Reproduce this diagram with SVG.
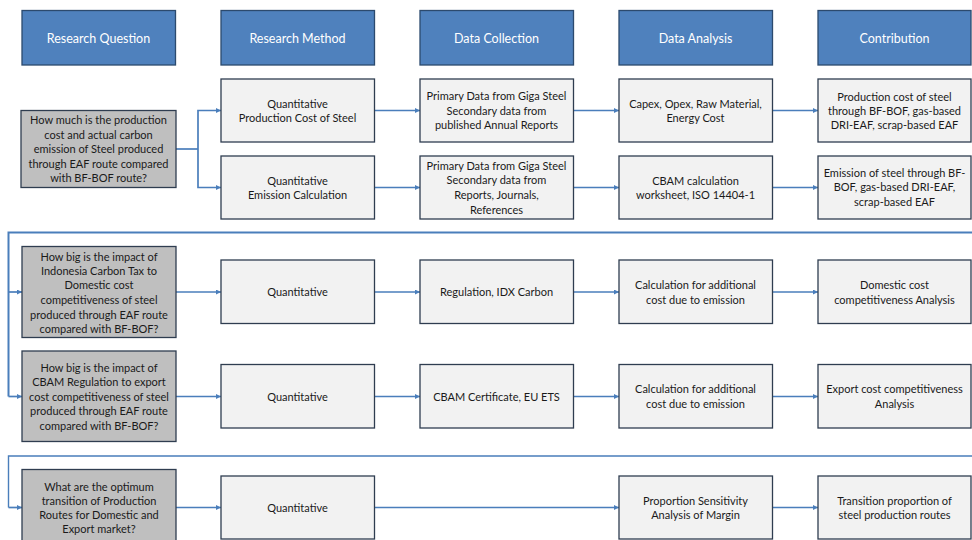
<svg xmlns="http://www.w3.org/2000/svg" width="972" height="540" viewBox="0 0 972 540">
<defs>
<marker id="ah" viewBox="0 0 6 6" refX="6" refY="3" markerWidth="6" markerHeight="5" markerUnits="userSpaceOnUse" orient="auto">
<path d="M0,0 L6,3 L0,6 Z" fill="#4A7EBB"/>
</marker>
<style>
.hdr{fill:#4F81BD;stroke:#2C4A6E;stroke-width:1.3}
.box{fill:#F2F2F2;stroke:#2F3D50;stroke-width:1.3}
.q{fill:#BFBFBF;stroke:#2F3D50;stroke-width:1.3}
.ht{font-family:Lato,"Liberation Sans",sans-serif;font-size:12.5px;fill:#FFFFFF;text-anchor:middle}
.t{font-family:Lato,"Liberation Sans",sans-serif;font-size:11px;fill:#1A1A1A;text-anchor:middle}
.c{fill:none;stroke:#4A7EBB;stroke-width:1.7}
.ca{fill:none;stroke:#4A7EBB;stroke-width:1.7;marker-end:url(#ah)}
</style>
</defs>
<rect width="972" height="540" fill="#FFFFFF"/>

<g id="connectors">
<path class="c" d="M176,149 H198"/>
<path class="ca" d="M198,149 V110.5 H221"/>
<path class="ca" d="M198,149 V187.5 H221"/>
<path class="ca" d="M375,110.5 H420"/>
<path class="ca" d="M375,187.5 H420"/>
<path class="ca" d="M574,110.5 H619"/>
<path class="ca" d="M574,187.5 H619"/>
<path class="ca" d="M773,110.5 H818"/>
<path class="ca" d="M773,187.5 H818"/>
<path class="c" style="stroke-width:2" d="M972,232.5 H8.5 V396.5"/>
<path class="ca" d="M8.5,292 H22"/>
<path class="ca" d="M8.5,396.5 H22"/>
<path class="ca" d="M176,292 H221"/>
<path class="ca" d="M176,396.5 H221"/>
<path class="ca" d="M375,292 H420"/>
<path class="ca" d="M375,396.5 H420"/>
<path class="ca" d="M574,292 H619"/>
<path class="ca" d="M574,396.5 H619"/>
<path class="ca" d="M773,292 H818"/>
<path class="ca" d="M773,396.5 H818"/>
<path class="c" style="stroke-width:1.4" d="M972,456 H8.5 V507.5"/>
<path class="ca" d="M8.5,507.5 H22"/>
<path class="ca" d="M176,507.5 H221"/>
<path class="ca" d="M375,507.5 H619"/>
<path class="ca" d="M773,507.5 H818"/>
</g>

<g id="h-question"><rect class="hdr" x="22" y="10.5" width="153.5" height="54.5"/><text class="ht" x="98.5" y="42.5">Research Question</text></g>
<g id="h-method"><rect class="hdr" x="221" y="10.5" width="153.5" height="54.5"/><text class="ht" x="297.5" y="42.5">Research Method</text></g>
<g id="h-collection"><rect class="hdr" x="420" y="10.5" width="153.5" height="54.5"/><text class="ht" x="496.5" y="42.5">Data Collection</text></g>
<g id="h-analysis"><rect class="hdr" x="619" y="10.5" width="153.5" height="54.5"/><text class="ht" x="695.5" y="42.5">Data Analysis</text></g>
<g id="h-contribution"><rect class="hdr" x="818" y="10.5" width="153" height="54.5"/><text class="ht" x="894.5" y="42.5">Contribution</text></g>

<g id="q1"><rect class="q" x="21" y="110.5" width="155" height="77"/>
<text class="t" x="98.5"><tspan x="98.5" y="124">How much is the production</tspan><tspan x="98.5" y="138.5">cost  and actual carbon</tspan><tspan x="98.5" y="153">emission of Steel produced</tspan><tspan x="98.5" y="167.5">through EAF route compared</tspan><tspan x="98.5" y="182">with BF-BOF route?</tspan></text></g>

<g id="r1-method"><rect class="box" x="221" y="79" width="153.5" height="63"/>
<text class="t"><tspan x="297.5" y="107.5">Quantitative</tspan><tspan x="297.5" y="121.5">Production Cost of Steel</tspan></text></g>
<g id="r2-method"><rect class="box" x="221" y="156" width="153.5" height="63"/>
<text class="t"><tspan x="297.5" y="184.5">Quantitative</tspan><tspan x="297.5" y="198.5">Emission Calculation</tspan></text></g>

<g id="r1-collection"><rect class="box" x="420" y="79" width="153.5" height="63"/>
<text class="t"><tspan x="496.5" y="100">Primary Data from Giga Steel</tspan><tspan x="496.5" y="114.5">Secondary data from</tspan><tspan x="496.5" y="129">published Annual Reports</tspan></text></g>
<g id="r2-collection"><rect class="box" x="420" y="156" width="153.5" height="63"/>
<text class="t"><tspan x="496.5" y="169.5">Primary Data from Giga Steel</tspan><tspan x="496.5" y="184">Secondary data from</tspan><tspan x="496.5" y="198.5">Reports, Journals,</tspan><tspan x="496.5" y="213.5">References</tspan></text></g>

<g id="r1-analysis"><rect class="box" x="619" y="79" width="153.5" height="63"/>
<text class="t"><tspan x="695.5" y="107.5">Capex, Opex, Raw Material,</tspan><tspan x="695.5" y="121.5">Energy Cost</tspan></text></g>
<g id="r2-analysis"><rect class="box" x="619" y="156" width="153.5" height="63"/>
<text class="t"><tspan x="695.5" y="185">CBAM calculation</tspan><tspan x="695.5" y="199">worksheet, ISO 14404-1</tspan></text></g>

<g id="r1-contribution"><rect class="box" x="818" y="79" width="153" height="63"/>
<text class="t"><tspan x="894.5" y="100.5">Production cost of steel</tspan><tspan x="894.5" y="114.5">through BF-BOF, gas-based</tspan><tspan x="894.5" y="129">DRI-EAF, scrap-based EAF</tspan></text></g>
<g id="r2-contribution"><rect class="box" x="818" y="156" width="153" height="63"/>
<text class="t"><tspan x="894.5" y="177">Emission of steel through BF-</tspan><tspan x="894.5" y="191">BOF, gas-based DRI-EAF,</tspan><tspan x="894.5" y="205.5">scrap-based EAF</tspan></text></g>

<g id="q2"><rect class="q" x="22" y="246.5" width="154" height="91"/>
<text class="t"><tspan x="99" y="260.5">How big is the impact of</tspan><tspan x="99" y="274.5">Indonesia Carbon Tax to</tspan><tspan x="99" y="289">Domestic cost</tspan><tspan x="99" y="304">competitiveness of steel</tspan><tspan x="99" y="319">produced through EAF route</tspan><tspan x="99" y="333">compared with BF-BOF?</tspan></text></g>
<g id="r3-method"><rect class="box" x="221" y="260" width="153.5" height="63.5"/><text class="t" x="297.5" y="296">Quantitative</text></g>
<g id="r3-collection"><rect class="box" x="420" y="260" width="153.5" height="63.5"/><text class="t" x="496.5" y="296">Regulation, IDX Carbon</text></g>
<g id="r3-analysis"><rect class="box" x="619" y="260" width="153.5" height="63.5"/>
<text class="t"><tspan x="695.5" y="289">Calculation for additional</tspan><tspan x="695.5" y="303.5">cost due to emission</tspan></text></g>
<g id="r3-contribution"><rect class="box" x="818" y="260" width="153" height="63.5"/>
<text class="t"><tspan x="894.5" y="289">Domestic cost</tspan><tspan x="894.5" y="303.5">competitiveness Analysis</tspan></text></g>

<g id="q3"><rect class="q" x="22" y="351" width="154" height="90.5"/>
<text class="t"><tspan x="99" y="371.5">How big is the impact of</tspan><tspan x="99" y="385.5">CBAM Regulation to export</tspan><tspan x="99" y="400.5">cost competitiveness of steel</tspan><tspan x="99" y="415">produced through EAF route</tspan><tspan x="99" y="430">compared with BF-BOF?</tspan></text></g>
<g id="r4-method"><rect class="box" x="221" y="364.5" width="153.5" height="63.5"/><text class="t" x="297.5" y="400.5">Quantitative</text></g>
<g id="r4-collection"><rect class="box" x="420" y="364.5" width="153.5" height="63.5"/><text class="t" x="496.5" y="400.5">CBAM Certificate, EU ETS</text></g>
<g id="r4-analysis"><rect class="box" x="619" y="364.5" width="153.5" height="63.5"/>
<text class="t"><tspan x="695.5" y="393">Calculation for additional</tspan><tspan x="695.5" y="407.5">cost due to emission</tspan></text></g>
<g id="r4-contribution"><rect class="box" x="818" y="364.5" width="153" height="63.5"/>
<text class="t"><tspan x="894.5" y="393">Export cost competitiveness</tspan><tspan x="894.5" y="407.5">Analysis</tspan></text></g>

<g id="q4"><rect class="q" x="22" y="469.5" width="154" height="78"/>
<text class="t"><tspan x="99" y="490.5">What are the optimum</tspan><tspan x="99" y="505">transition of Production</tspan><tspan x="99" y="519">Routes for Domestic and</tspan><tspan x="99" y="533">Export market?</tspan></text></g>
<g id="r5-method"><rect class="box" x="221" y="476" width="153.5" height="63"/><text class="t" x="297.5" y="511.5">Quantitative</text></g>
<g id="r5-analysis"><rect class="box" x="619" y="476" width="153.5" height="63"/>
<text class="t"><tspan x="695.5" y="505">Proportion Sensitivity</tspan><tspan x="695.5" y="519">Analysis of Margin</tspan></text></g>
<g id="r5-contribution"><rect class="box" x="818" y="476" width="153" height="63"/>
<text class="t"><tspan x="894.5" y="505">Transition proportion of</tspan><tspan x="894.5" y="519">steel production routes</tspan></text></g>
</svg>
